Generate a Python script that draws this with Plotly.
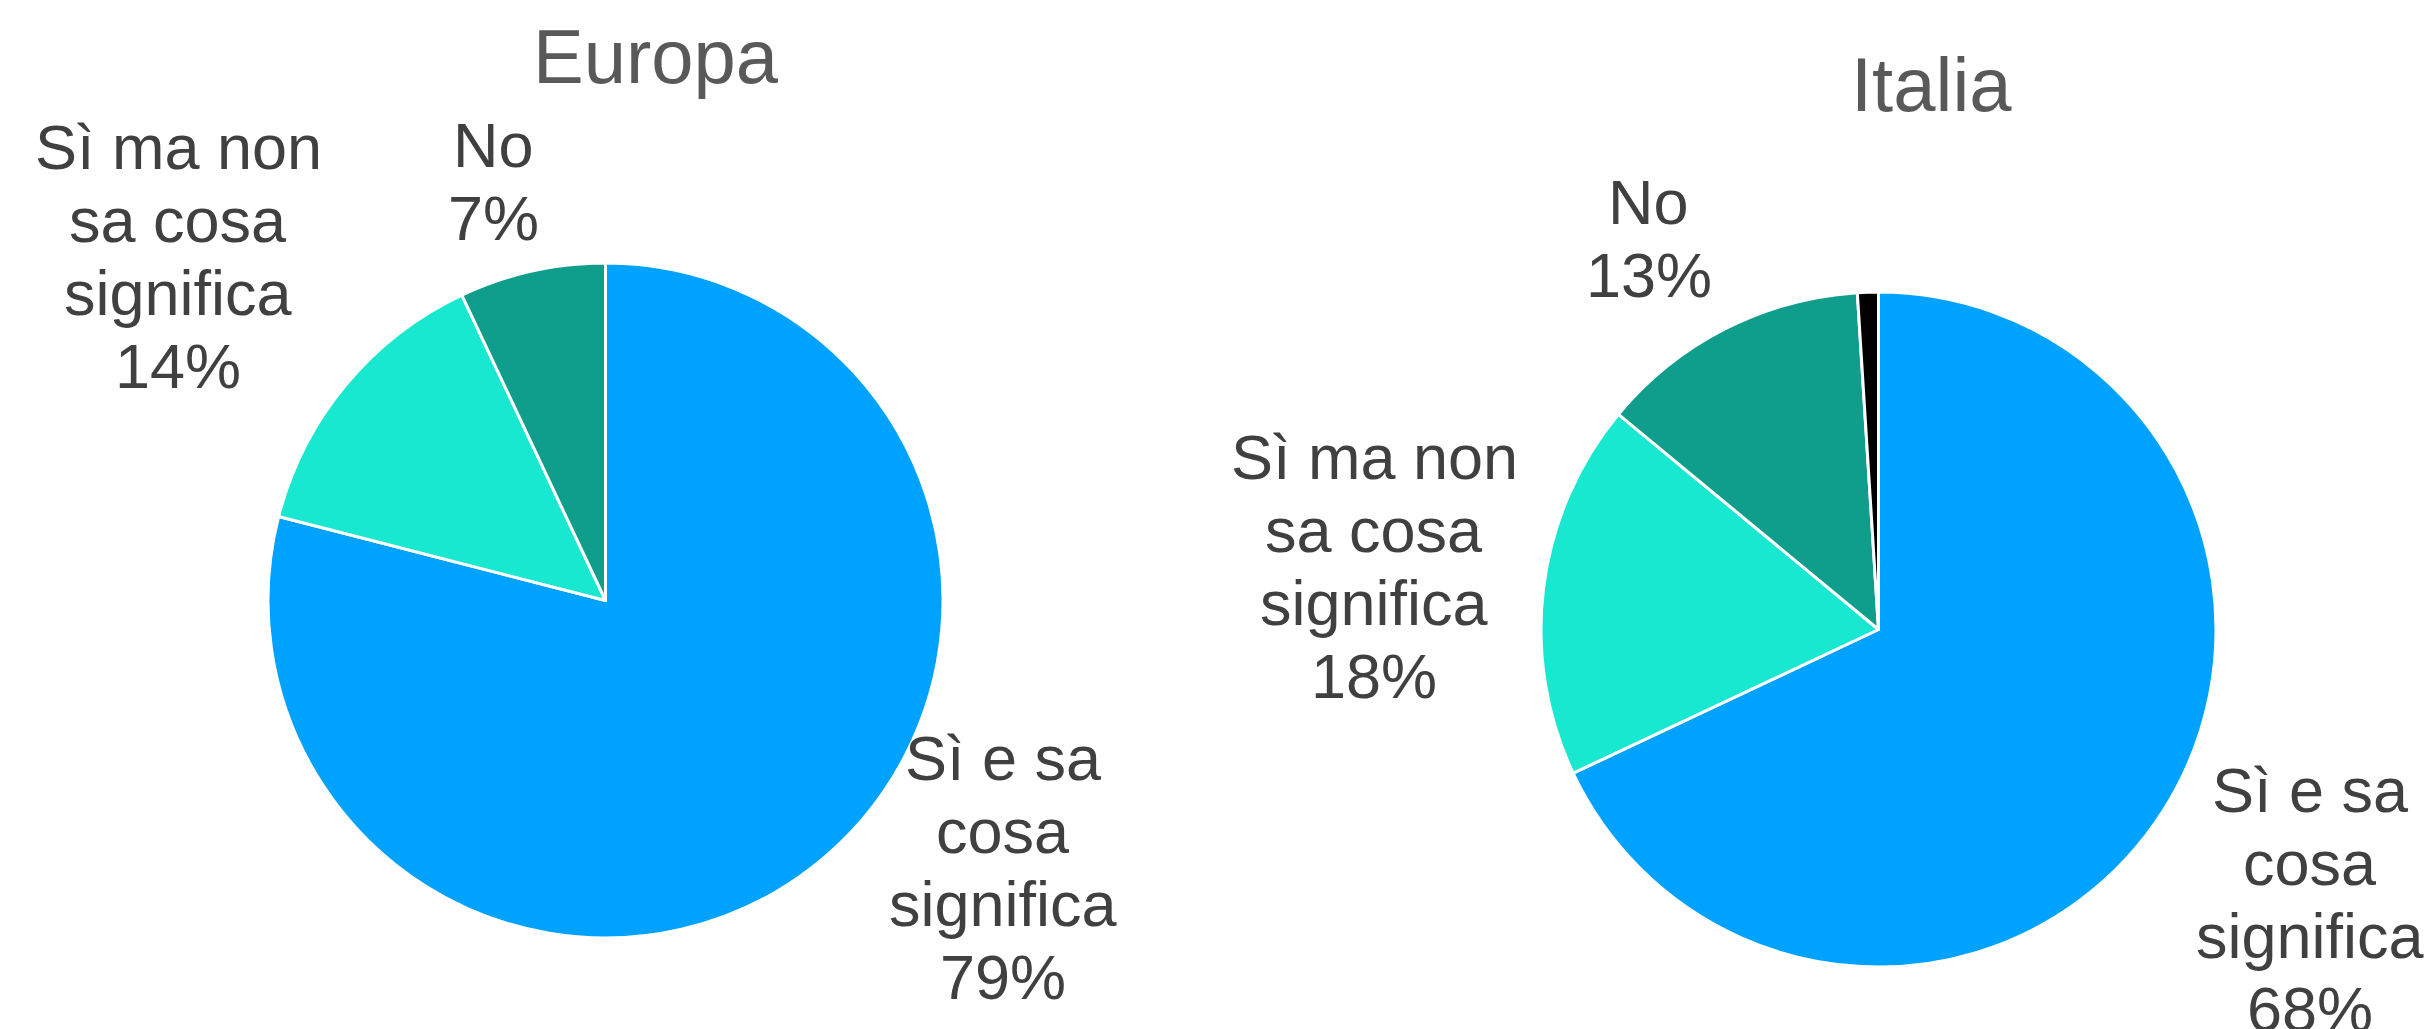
import plotly.graph_objects as go

# ── data ──────────────────────────────────────────────────────────────────────
EU_LABELS = ["Sì e sa cosa significa", "Sì ma non sa cosa significa", "No"]
EU_VALUES = [79, 14, 7]
EU_COLORS = ["#00A2FF", "#19E8D0", "#109E8C"]

IT_LABELS = ["Sì e sa cosa significa", "Sì ma non sa cosa significa", "No", "Non so"]
IT_VALUES = [68, 18, 13, 1]
IT_COLORS = ["#00A2FF", "#19E8D0", "#109E8C", "#000000"]

# wrapped label lines for each labelled slice
EU_TEXT = [["Sì e sa", "cosa", "significa"], ["Sì ma non", "sa cosa", "significa"], ["No"]]
IT_TEXT = [["Sì e sa", "cosa", "significa"], ["Sì ma non", "sa cosa", "significa"], ["No"]]

_FONT = "Liberation Sans, Arial, sans-serif"
_LABEL = "#404040"
_TITLE = "#595959"
W, H = 2434, 1029
LINE = 73  # px between label lines

# label block centres (pixels, top-left origin)
EU_POS = [(995, 859), (170, 248), (485, 174)]
IT_POS = [(2302, 891), (1366, 558), (1641, 230)]


def _px(x, y):
    return x / W, 1 - y / H


fig = go.Figure()

fig.add_trace(go.Pie(
    labels=EU_LABELS, values=EU_VALUES, name="Europa",
    marker=dict(colors=EU_COLORS, line=dict(color="white", width=3)),
    sort=False, direction="clockwise", rotation=0,
    textinfo="none", hoverinfo="label+percent",
    domain=dict(x=[260 / W, 935 / W], y=[1 - 930 / H, 1 - 255 / H]),
))

fig.add_trace(go.Pie(
    labels=IT_LABELS, values=IT_VALUES, name="Italia",
    marker=dict(colors=IT_COLORS, line=dict(color="white", width=3)),
    sort=False, direction="clockwise", rotation=0,
    textinfo="none", hoverinfo="label+percent",
    domain=dict(x=[1533 / W, 2208 / W], y=[1 - 959 / H, 1 - 284 / H]),
))

annotations = []
for texts, values, pos in [(EU_TEXT, EU_VALUES, EU_POS), (IT_TEXT, IT_VALUES, IT_POS)]:
    tot = sum(values)
    for lines, v, (x, y) in zip(texts, values, pos):
        lines = lines + [f"{round(v / tot * 100)}%"]
        n = len(lines)
        px, py = _px(x, y)
        for i, ln in enumerate(lines):
            annotations.append(dict(
                x=px, y=py, xref="paper", yref="paper",
                text=ln, showarrow=False,
                xanchor="center", yanchor="middle",
                yshift=((n - 1) / 2 - i) * LINE,
                font=dict(family=_FONT, size=63, color=_LABEL),
            ))

for title, (x, y) in [("Europa", (648, 48)), ("Italia", (1923, 76))]:
    px, py = _px(x, y)
    annotations.append(dict(
        x=px, y=py, xref="paper", yref="paper", text=title,
        showarrow=False, xanchor="center", yanchor="middle",
        font=dict(family=_FONT, size=76, color=_TITLE),
    ))

fig.update_layout(
    width=W, height=H,
    showlegend=False,
    paper_bgcolor="white",
    plot_bgcolor="white",
    margin=dict(l=0, r=0, t=0, b=0),
    font=dict(family=_FONT),
    annotations=annotations,
)

fig.write_html("out.html")
